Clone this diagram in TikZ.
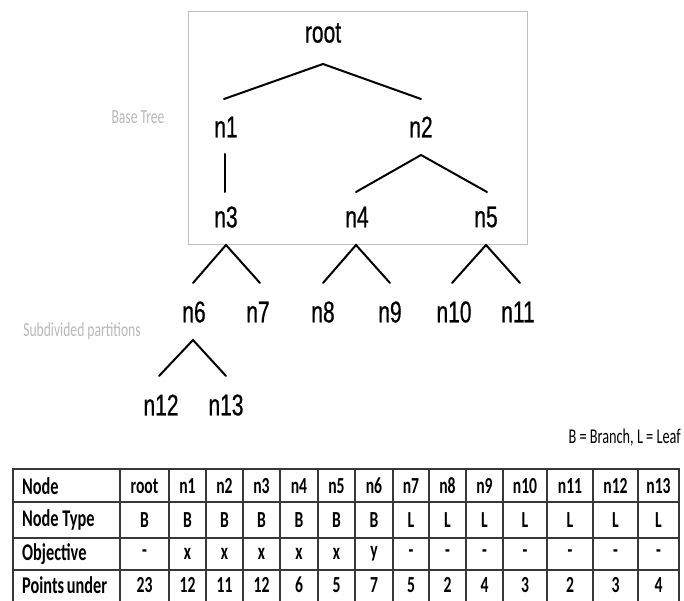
\documentclass[tikz,border=0pt]{standalone}
\usepackage{fontspec}
\usetikzlibrary{calc}
\newfontfamily\treefont[FakeStretch=0.7,FakeBold=0.6]{Liberation Sans}
\newfontfamily\tabfont[FakeStretch=0.68]{Carlito}
\begin{document}
\begin{tikzpicture}[x=1pt,y=-1pt,
  tlabel/.style={font=\treefont\fontsize{30}{30}\selectfont, inner sep=0pt},
  treeline/.style={line width=2pt, line cap=round},
  glabel/.style={font=\tabfont\fontsize{20}{20}\selectfont, text=black!28, inner sep=0pt},
  hcell/.style={font=\tabfont\bfseries\fontsize{24}{24}\selectfont, inner sep=0pt, anchor=west},
  vcell/.style={font=\tabfont\bfseries\fontsize{23}{23}\selectfont, inner sep=0pt},
  grid/.style={line width=1.2pt, draw=black!78},
  outer/.style={line width=1.9pt, draw=black!78}]
\useasboundingbox (0,0) rectangle (684,601);
% base tree box
\draw[black!25, line width=0.9pt] (188,11) rectangle (527,244);
% tree labels
\node[tlabel] (root) at (323,33) {root};
\node[tlabel] (n1) at (226,127) {n1};
\node[tlabel] (n2) at (421,127) {n2};
\node[tlabel] (n3) at (226,217) {n3};
\node[tlabel] (n4) at (357,217) {n4};
\node[tlabel] (n5) at (486,217) {n5};
\node[tlabel] (n6) at (194,312) {n6};
\node[tlabel] (n7) at (258,312) {n7};
\node[tlabel] (n8) at (323,312) {n8};
\node[tlabel] (n9) at (390,312) {n9};
\node[tlabel] (n10) at (454,312) {n10};
\node[tlabel] (n11) at (518,312) {n11};
\node[tlabel] (n12) at (161,405) {n12};
\node[tlabel] (n13) at (226,405) {n13};
% connectors
\draw[treeline] ($(n1)+(-2,-28)$) -- ($(root)+(0,31)$) -- ($(n2)+(0,-28)$);
\draw[treeline] ($(n1)+(-1,27)$) -- ($(n3)+(-1,-25)$);
\draw[treeline] ($(n4)+(-1,-25)$) -- ($(n2)+(0,28)$) -- ($(n5)+(1,-25)$);
\draw[treeline] ($(n6)+(-1,-29)$) -- ($(n3)+(0,28)$) -- ($(n7)+(2,-29)$);
\draw[treeline] ($(n8)+(0,-29)$) -- ($(n4)+(-1,28)$) -- ($(n9)+(0,-29)$);
\draw[treeline] ($(n10)+(-2,-29)$) -- ($(n5)+(0,28)$) -- ($(n11)+(2,-29)$);
\draw[treeline] ($(n12)+(-2,-29)$) -- ($(n6)+(-1,28)$) -- ($(n13)+(0,-29)$);
% gray labels
\node[glabel] (basetree) at (138,117) {Base Tree};
\node[glabel] (subdiv) at (82,331) {Subdivided partitions};
\node[font=\tabfont\fontsize{21}{21}\selectfont, inner sep=0pt, anchor=east] (legend) at (681,438) {B = Branch, L = Leaf};
% table grid
\foreach \y in {502,538,570} \draw[grid] (13,\y) -- (679,\y);
\foreach \x in {120,169,206,243,280,318,355,393,429,466,503,547,593,638} \draw[grid] (\x,469) -- (\x,601);
\draw[outer] (13,601) -- (13,469) -- (679,469) -- (679,601);
% row headers
\node[hcell] (h1) at (22,486) {Node};
\node[hcell] (h2) at (22,520) {Node Type};
\node[hcell] (h3) at (22,554) {Objective};
\node[hcell] (h4) at (22,585) {Points\kern-1pt\ under};
% table values
\foreach \l/\r/\a/\b/\c/\d/\k in {120/169/root/B/-/23/0, 169/206/n1/B/x/12/1, 206/243/n2/B/x/11/2, 243/280/n3/B/x/12/3, 280/318/n4/B/x/6/4, 318/355/n5/B/x/5/5, 355/393/n6/B/y/7/6, 393/429/n7/L/-/5/7, 429/466/n8/L/-/2/8, 466/503/n9/L/-/4/9, 503/547/n10/L/-/3/10, 547/593/n11/L/-/2/11, 593/638/n12/L/-/3/12, 638/679/n13/L/-/4/13}{
  \node[vcell] (ca\k) at ({(\l+\r)/2},486) {\a};
  \node[vcell] (cb\k) at ({(\l+\r)/2},520) {\b};
  \node[vcell] (cc\k) at ({(\l+\r)/2},554) {\c};
  \node[vcell] (cd\k) at ({(\l+\r)/2},585) {\d};
}
\end{tikzpicture}
\end{document}
